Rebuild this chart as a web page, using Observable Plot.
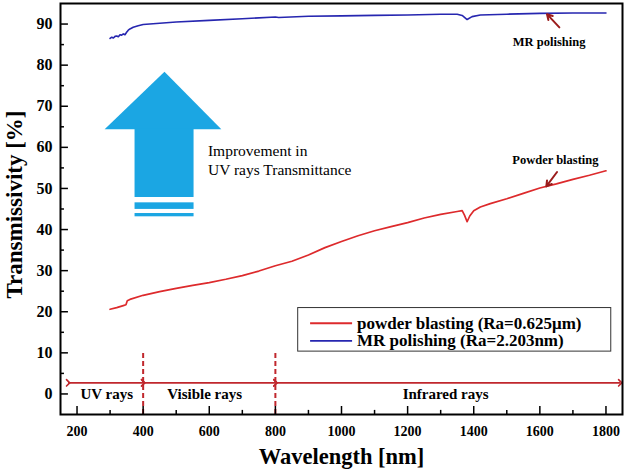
<!DOCTYPE html>
<html><head><meta charset="utf-8">
<script src="https://cdn.jsdelivr.net/npm/d3@7"></script>
<script src="https://cdn.jsdelivr.net/npm/@observablehq/plot@0.6"></script>
<style>
body{margin:0;background:#fff;}
#chart svg{display:block;}
#chart svg g[aria-label$="tick label"] text{font-weight:bold;}
</style>
</head><body><div id="chart"></div>
<script>
// ---- Data ----
const mrWavelength = [300,305,310,315,320,325,330,335,340,345,350,355,360,370,385,400,450,500,600,700,800,810,900,1000,1100,1200,1300,1350,1365,1380,1395,1420,1500,1600,1700,1800];
const mrValue      = [86.5,86.8,86.6,87.0,87.1,86.9,87.4,87.3,87.6,87.4,88.0,88.5,88.8,89.2,89.6,89.9,90.2,90.5,90.9,91.3,91.7,91.6,91.9,92.0,92.1,92.2,92.4,92.4,92.1,91.1,91.8,92.2,92.4,92.6,92.7,92.7];

const pbWavelength = [300,320,340,348,352,360,400,450,500,550,600,650,700,750,800,850,900,950,1000,1050,1100,1150,1200,1250,1300,1350,1365,1372,1380,1388,1400,1420,1450,1500,1550,1600,1650,1700,1750,1800];
const pbValue      = [20.6,21.0,21.5,21.7,22.7,23.0,24.0,24.9,25.7,26.4,27.1,27.9,28.8,29.9,31.2,32.3,33.8,35.6,37.1,38.5,39.7,40.7,41.7,42.8,43.7,44.4,44.6,43.5,41.9,43.3,44.6,45.5,46.3,47.5,48.8,50.1,51.1,52.2,53.2,54.3];

const seriesNames = ["powder blasting (Ra=0.625μm)", "MR polishing (Ra=2.203nm)"];
const curveLabels = ["Powder blasting", "MR polishing"];

const xMajorTicks = [200,400,600,800,1000,1200,1400,1600,1800];
const xMinorTicks = [300,500,700,900,1100,1300,1500,1700];
const yMajorTicks = [0,10,20,30,40,50,60,70,80,90];
const yMinorTicks = [5,15,25,35,45,55,65,75,85];

const regionNames = ["UV rays", "Visible rays", "Infrared rays"];
const regionBounds = [400, 800];
const annotationText = "Improvement in\nUV rays Transmittance";

// ---- Layout / annotation geometry (data units) ----
const regionSpans = [[173,400],[400,800],[800,1843]];
const regionLabelX = [290, 586, 1315];
const bigArrowHead = [{x:285,y:64.3},{x:466,y:78.3},{x:638,y:64.3}];
const bigArrowRects = [
  {x1:375.5,x2:554,y1:47.8,y2:64.4},
  {x1:375.5,x2:554,y1:44.9,y2:46.5},
  {x1:375.5,x2:554,y1:43.1,y2:43.9}
];

const RED = "#dd2a2c", BLUE = "#2626b0", DARKRED = "#c0272d", ARROWRED = "#9b1c1c", SKY = "#1ba6e3";

const mr = mrWavelength.map((w,i)=>({w, v: mrValue[i]}));
const pb = pbWavelength.map((w,i)=>({w, v: pbValue[i]}));
const regions = regionNames.map((name,i)=>({name, from: regionSpans[i][0], to: regionSpans[i][1], lx: regionLabelX[i]}));
const legendRows = [
  {name: seriesNames[0], color: RED, y: 17.2},
  {name: seriesNames[1], color: BLUE, y: 12.9}
];

const serif = "'Liberation Serif', 'Times New Roman', serif";

const chart = Plot.plot({
  width: 628, height: 473,
  marginLeft: 60, marginRight: 6, marginTop: 3, marginBottom: 59,
  x: {domain: [150, 1850]},
  y: {domain: [-5, 95]},
  style: {fontFamily: serif, background: "white", color: "black"},
  marks: [
    // big blue arrow
    Plot.areaY(bigArrowHead, {x: "x", y1: () => 64.3, y2: "y", fill: SKY, curve: "linear"}),
    Plot.rect(bigArrowRects, {x1: "x1", x2: "x2", y1: "y1", y2: "y2", fill: SKY}),
    Plot.text([annotationText], {x: 596, y: 57.1, textAnchor: "start", fontSize: 15.5, lineHeight: 1.27, fill: "black"}),

    // region markers
    Plot.ruleX(regionBounds, {x: d => d, y1: -5, y2: 10, stroke: DARKRED, strokeWidth: 2, strokeDasharray: "5,3"}),
    Plot.link(regions, {x1: "from", x2: "to", y1: () => 2.7, y2: () => 2.7, stroke: DARKRED, strokeWidth: 1.6, markerStart: "arrow", markerEnd: "arrow"}),
    Plot.text(regions, {x: "lx", y: () => 0, text: "name", fontSize: 15, fontWeight: "bold", fill: "black"}),

    // data curves
    Plot.line(pb, {x: "w", y: "v", stroke: RED, strokeWidth: 1.7}),
    Plot.line(mr, {x: "w", y: "v", stroke: BLUE, strokeWidth: 1.6}),

    // curve annotations
    Plot.arrow([{x1:1659,y1:89.2,x2:1621.6,y2:92.4},{x1:1652,y1:54.0,x2:1619.6,y2:50.5}], {x1:"x1", y1:"y1", x2:"x2", y2:"y2", stroke: ARROWRED, strokeWidth: 2, headLength: 6}),
    Plot.text([{t: curveLabels[1], x: 1628, y: 85.7}, {t: curveLabels[0], x: 1647, y: 56.9}], {x: "x", y: "y", text: "t", fontSize: 12.5, fontWeight: "bold", fill: "black"}),

    // legend
    Plot.rect([{x1: 869, x2: 1816, y1: 10.3, y2: 20.9}], {x1: "x1", x2: "x2", y1: "y1", y2: "y2", fill: "white", stroke: "#333", strokeWidth: 1}),
    Plot.link(legendRows, {x1: () => 905, x2: () => 1032, y1: "y", y2: "y", stroke: "color", strokeWidth: 1.8}),
    Plot.text(legendRows, {x: () => 1047, y: "y", text: "name", textAnchor: "start", fontSize: 17, fontWeight: "bold", fill: "black"}),

    // inward ticks
    Plot.ruleX(xMajorTicks, {x: d => d, y1: -5, y2: -3.05, stroke: "black", strokeWidth: 1.5}),
    Plot.ruleX(xMinorTicks, {x: d => d, y1: -5, y2: -4.0, stroke: "black", strokeWidth: 1.5}),
    Plot.ruleY(yMajorTicks, {y: d => d, x1: 150, x2: 174, stroke: "black", strokeWidth: 1.5}),
    Plot.ruleY(yMinorTicks, {y: d => d, x1: 150, x2: 162, stroke: "black", strokeWidth: 1.5}),

    // axes
    Plot.axisX({ticks: xMajorTicks, tickSize: 0, tickPadding: 12, fontSize: 14, fontWeight: "bold", label: null, tickFormat: d => String(d)}),
    Plot.axisY({ticks: yMajorTicks, tickSize: 0, tickPadding: 8, fontSize: 16, fontWeight: "bold", label: null}),
    Plot.text(["Wavelength [nm]"], {frameAnchor: "bottom", dy: 49, fontSize: 22.5, fontWeight: "bold", fill: "black"}),
    Plot.text(["Transmissivity [%]"], {frameAnchor: "left", textAnchor: "middle", dx: -46, dy: -4.5, rotate: -90, fontSize: 23, fontWeight: "bold", fill: "black"}),

    Plot.frame({stroke: "black", strokeWidth: 2})
  ]
});
document.getElementById("chart").appendChild(chart);
</script>
</body></html>
